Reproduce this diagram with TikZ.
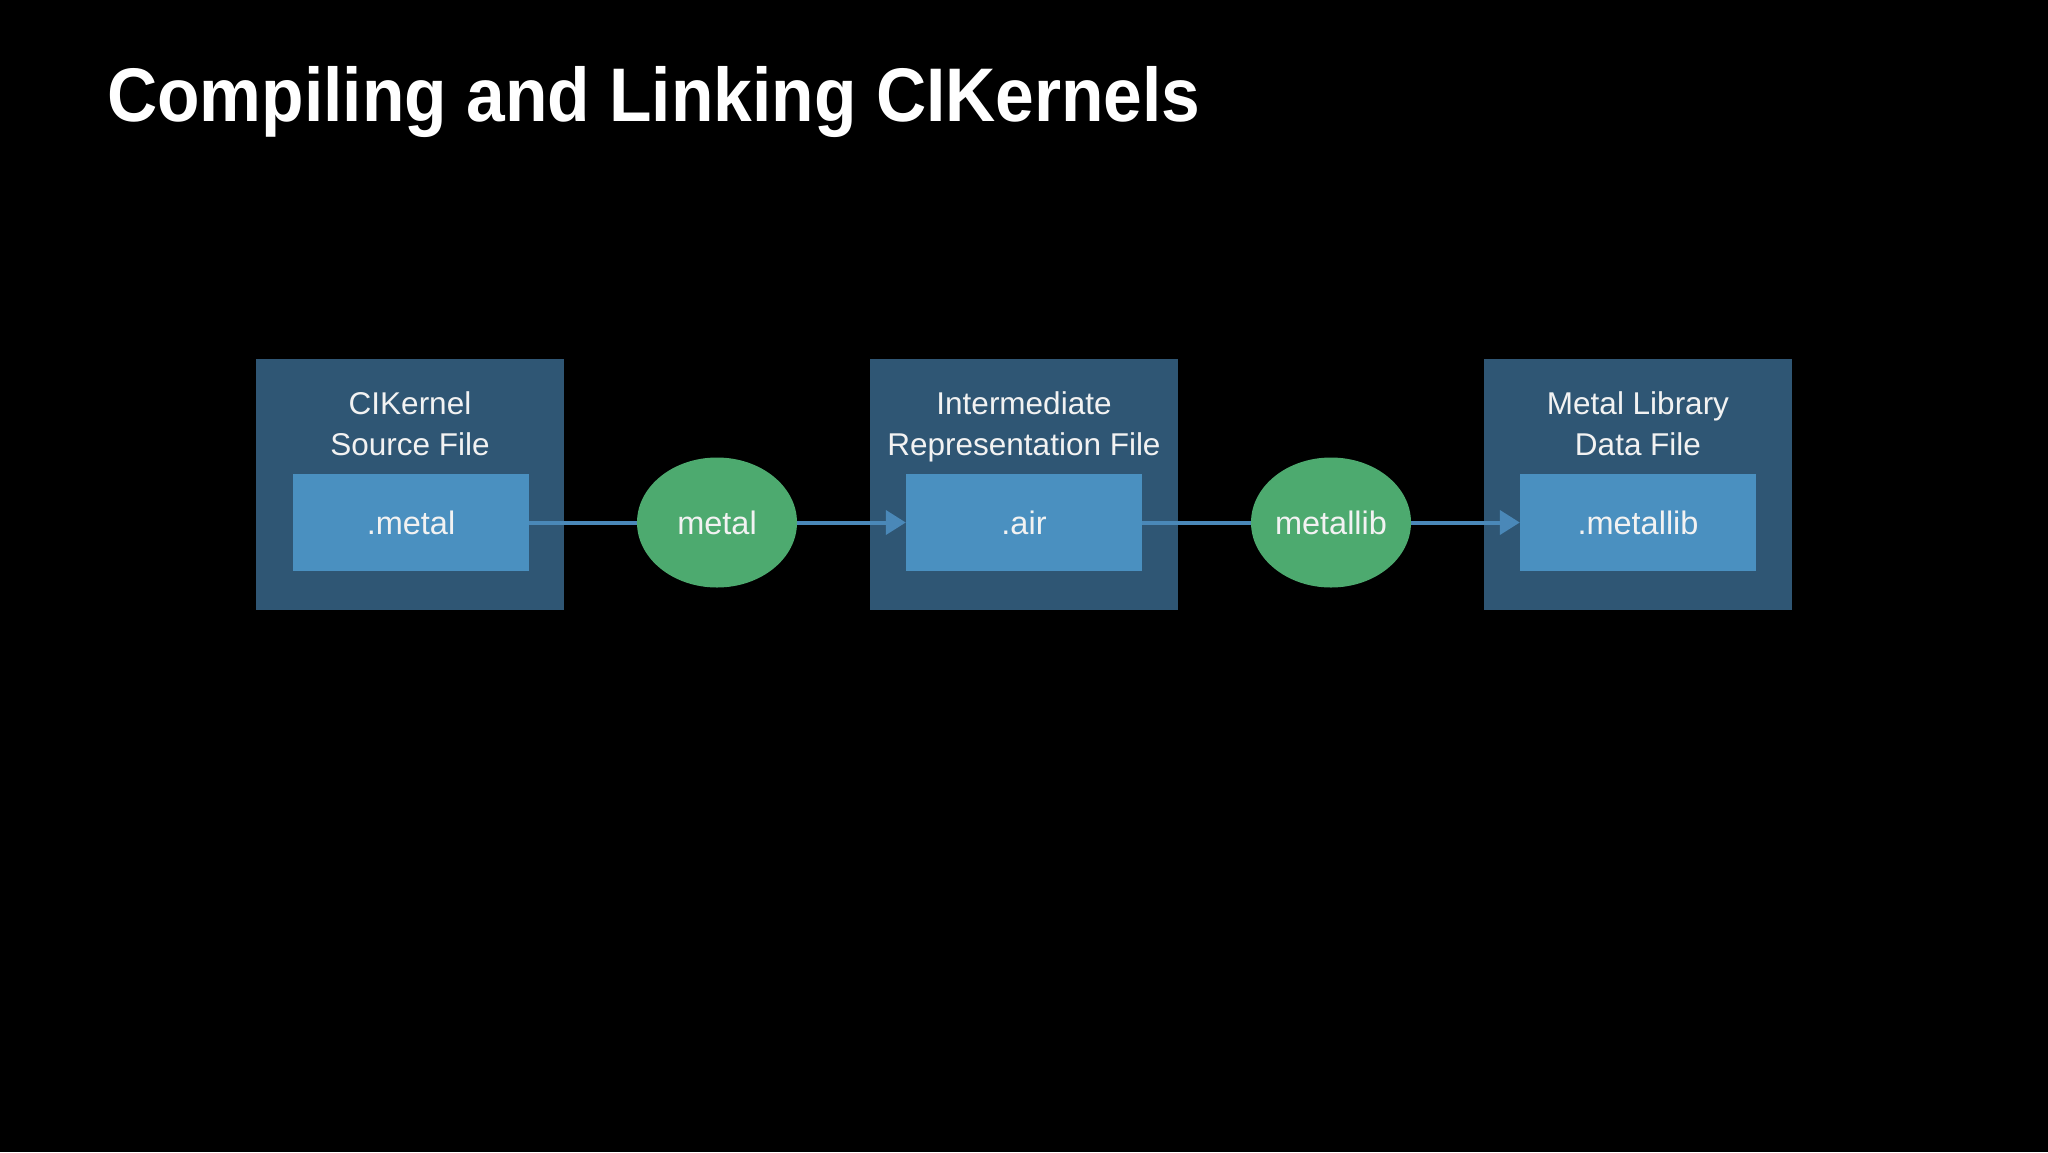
\documentclass[tikz,border=0pt]{standalone}
\usepackage{fontspec}
\setmainfont{Liberation Sans}
\usetikzlibrary{arrows.meta,shapes.geometric}
\definecolor{outerc}{HTML}{2F5674}
\definecolor{innerc}{HTML}{4A90C0}
\definecolor{toolc}{HTML}{4DAA6F}
\definecolor{arrowc}{HTML}{4A88B8}
\definecolor{txt}{HTML}{F2F2F2}
\tikzset{
  outerbox/.style={fill=outerc, draw=none, minimum width=308pt, minimum height=251pt, inner sep=0pt},
  innerbox/.style={fill=innerc, draw=none, minimum width=236pt, minimum height=97pt, inner sep=0pt, text=txt, font=\fontsize{32.5}{38}\selectfont},
  tool/.style={ellipse, fill=toolc, draw=none, minimum width=160pt, minimum height=130pt, inner sep=0pt, text=txt, font=\fontsize{32.5}{38}\selectfont},
  lbl/.style={text=txt, font=\fontsize{31.5}{36}\selectfont, anchor=base, inner sep=0pt},
  conn/.style={draw=arrowc, line width=4pt},
  connarrow/.style={conn, -{Triangle[length=20pt,width=24pt]}},
}
\begin{document}
\begin{tikzpicture}[x=1pt,y=-1pt]
\fill[black] (0,0) rectangle (2048,1152);
\useasboundingbox (0,0) rectangle (2048,1152);
\node[anchor=base west, text=white, font=\fontsize{76}{90}\selectfont\bfseries, inner sep=0pt] (title) at (107,121) {\scalebox{0.915}[1]{Compiling and Linking CIKernels}};

\node[outerbox] (o1) at (410,484.5) {};
\node[outerbox] (o2) at (1024,484.5) {};
\node[outerbox] (o3) at (1638,484.5) {};

\node[lbl] (l1a) at (410,414) {CIKernel};
\node[lbl] (l1b) at (410,455) {Source File};
\node[lbl] (l2a) at (1024,414) {Intermediate};
\node[lbl] (l2b) at (1024,455) {Representation File};
\node[lbl] (l3a) at (1638,414) {Metal Library};
\node[lbl] (l3b) at (1638,455) {Data File};

\node[innerbox] (i1) at (411,522.5) {.metal};
\node[innerbox] (i2) at (1024,522.5) {.air};
\node[innerbox] (i3) at (1638,522.5) {.metallib};

\node[tool] (t1) at (717,522.5) {metal};
\node[tool] (t2) at (1331,522.5) {metallib};

\draw[conn] (i1.east) -- (t1.west);
\draw[connarrow] (t1.east) -- (i2.west);
\draw[conn] (i2.east) -- (t2.west);
\draw[connarrow] (t2.east) -- (i3.west);
\end{tikzpicture}
\end{document}
